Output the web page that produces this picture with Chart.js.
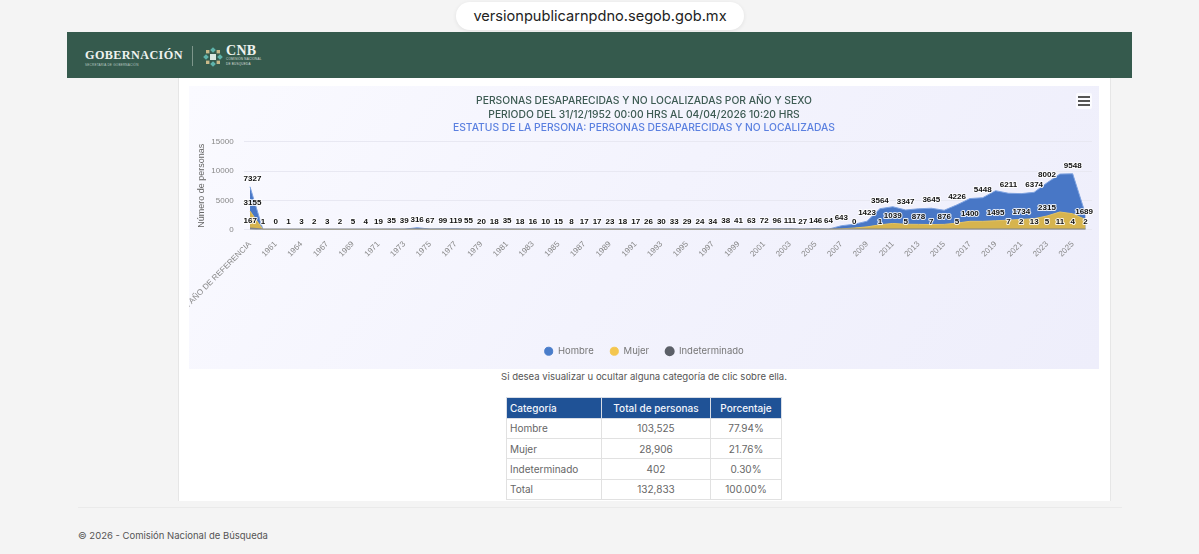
<!DOCTYPE html>
<html lang="es"><head><meta charset="utf-8">
<script src="https://cdn.jsdelivr.net/npm/chart.js@4/dist/chart.umd.min.js"></script>
<style>
*{box-sizing:border-box}
html,body{margin:0;padding:0;width:1199px;height:554px;overflow:hidden;background:#f4f4f4;font-family:Inter,"Open Sans",sans-serif;color:#555}
.abs{position:absolute}
#pill{left:456px;top:2px;width:288px;height:28px;background:#fff;border-radius:14px;box-shadow:0 1px 4px rgba(0,0,0,.08);text-align:center;font:14.6px/28px "Inter",sans-serif;color:#222}
#hdr{left:67px;top:32px;width:1065px;height:46px;background:#355a4d}
#gob{left:18px;top:15px;font:bold 12.2px/16px "Liberation Serif",serif;letter-spacing:.4px;color:#eef2ef}
#gobs{left:18px;top:31px;font:3.1px/4px "Liberation Sans",sans-serif;letter-spacing:.2px;color:#b8c8c0}
#div{left:125px;top:14px;width:1px;height:20px;background:#7d968b}
#cnb{left:159px;top:11px;font:bold 14px/16px "Liberation Serif",serif;letter-spacing:.3px;color:#eef2ef}
#cnbs{left:159px;top:25px;font:3.1px/4.5px "Liberation Sans",sans-serif;letter-spacing:.2px;color:#d5dfda}
#card{left:178px;top:78px;width:933px;height:423px;background:#fff;border-left:1px solid #e6e6e6;border-right:1px solid #e6e6e6}
#wrap{left:189px;top:86px;width:910px;height:283px;background:linear-gradient(125deg,#fafaff 0%,#f3f3fd 50%,#eeeefb 100%)}
#menu{left:1076px;top:93px;width:16px;height:16px;background:#fbfbff;border-radius:2px}
#menu i{position:absolute;left:2px;width:12px;height:2px;background:#555}
#note{left:189px;top:370px;width:910px;text-align:center;font:9.55px/13px Inter,sans-serif;color:#555}
table{position:absolute;left:506px;top:397px;width:275px;border-collapse:collapse;table-layout:fixed;font:10px/14px Inter,sans-serif;color:#666}
th{background:#1f5296;color:#f2f5fb;font-weight:500;height:20.5px;padding:0 3px;border:1px solid #d8dde6;font-size:10px}
td{height:20.4px;padding:0 3px;border:1px solid #e1e1e1;text-align:center;background:#fff}
th:first-child,td:first-child{text-align:left}
#rule{left:78px;top:507px;width:1044px;height:1px;background:#eaeaea}
#foot{left:78px;top:529px;font:9.5px/14px Inter,sans-serif;color:#555}
</style></head>
<body>
<div id="pill" class="abs">versionpublicarnpdno.segob.gob.mx</div>
<div id="hdr" class="abs">
  <div id="gob" class="abs">GOBERNACIÓN</div>
  <div id="gobs" class="abs">SECRETARÍA DE GOBERNACIÓN</div>
  <div id="div" class="abs"></div>
  <svg class="abs" style="left:136px;top:15px" width="20" height="20" viewBox="0 0 20 20">
    <rect x="7" y="7" width="6" height="6" fill="#d9e6df"/>
    <rect x="8" y="1" width="4" height="4" fill="#5fb3ab" transform="rotate(45 10 3)"/>
    <rect x="8" y="15" width="4" height="4" fill="#5fb3ab" transform="rotate(45 10 17)"/>
    <rect x="1" y="8" width="4" height="4" fill="#5fb3ab" transform="rotate(45 3 10)"/>
    <rect x="15" y="8" width="4" height="4" fill="#5fb3ab" transform="rotate(45 17 10)"/>
    <rect x="3" y="3" width="3.4" height="3.4" fill="#c9b98a"/>
    <rect x="13.6" y="3" width="3.4" height="3.4" fill="#c9b98a"/>
    <rect x="3" y="13.6" width="3.4" height="3.4" fill="#c9b98a"/>
    <rect x="13.6" y="13.6" width="3.4" height="3.4" fill="#c9b98a"/>
  </svg>
  <div id="cnb" class="abs">CNB</div>
  <div id="cnbs" class="abs">COMISIÓN NACIONAL<br>DE BÚSQUEDA</div>
</div>
<div id="card" class="abs"></div>
<div id="wrap" class="abs"><canvas id="c" width="910" height="283" style="width:910px;height:283px;display:block"></canvas></div>
<div id="menu" class="abs"><i style="top:3px"></i><i style="top:7px"></i><i style="top:11px"></i></div>
<div id="note" class="abs">Si desea visualizar u ocultar alguna categoría de clic sobre ella.</div>
<table>
  <colgroup><col style="width:95px"><col style="width:109px"><col style="width:71px"></colgroup>
  <thead><tr id="thead"></tr></thead><tbody id="tbody"></tbody>
</table>
<div id="rule" class="abs"></div>
<div id="foot" class="abs">© 2026 - Comisión Nacional de Búsqueda</div>
<script>
const categories = ["SIN AÑO DE REFERENCIA","1952","1961","1963","1964","1966","1967","1968","1969","1970","1971","1972","1973","1974","1975","1976","1977","1978","1979","1980","1981","1982","1983","1984","1985","1986","1987","1988","1989","1990","1991","1992","1993","1994","1995","1996","1997","1998","1999","2000","2001","2002","2003","2004","2005","2006","2007","2008","2009","2010","2011","2012","2013","2014","2015","2016","2017","2018","2019","2020","2021","2022","2023","2024","2025","2026"];
const hombre = [7327,1,0,1,3,2,3,2,5,4,19,35,39,316,67,99,119,55,20,18,35,18,16,10,15,8,17,17,23,18,17,26,30,33,29,24,34,38,41,63,72,96,111,27,146,64,643,900,1423,3564,3900,3347,3550,3645,3300,4226,5300,5448,6650,6211,6150,6374,8002,9500,9548,2600];
const mujer = [3155,0,1,0,1,1,0,1,1,2,4,6,8,40,12,18,20,10,6,5,7,5,4,3,4,3,5,5,6,5,5,6,7,8,7,6,8,8,9,12,14,18,20,8,25,15,110,250,450,800,1039,900,878,850,876,1100,1400,1400,1495,1600,1734,1850,2315,3000,2700,1689];
const indeterminado = [167,0,0,0,0,0,0,0,0,0,0,0,1,2,1,0,1,0,0,0,0,0,0,0,0,0,0,0,0,0,0,0,0,0,0,0,1,0,0,1,0,1,1,0,1,0,1,0,2,1,3,5,4,7,6,5,6,8,9,7,2,13,5,11,4,2];
const hombreShown = [0,1,2,3,4,5,6,7,8,9,10,11,12,13,14,15,16,17,18,19,20,21,22,23,24,25,26,27,28,29,30,31,32,33,34,35,36,37,38,39,40,41,42,43,44,45,46,48,49,51,53,55,57,59,61,62,64];
const mujerShown = [0,50,52,54,56,58,60,62,65];
const indeterminadoShown = [0,47,49,51,53,55,59,60,61,62,63,64,65];
const yTicks = [0,5000,10000,15000];
const tableHead = ["Categoría","Total de personas","Porcentaje"];
const tableRows = [["Hombre","103,525","77.94%"],["Mujer","28,906","21.76%"],["Indeterminado","402","0.30%"],["Total","132,833","100.00%"]];

document.getElementById('thead').innerHTML = tableHead.map(t=>'<th>'+t+'</th>').join('');
document.getElementById('tbody').innerHTML = tableRows.map(r=>'<tr>'+r.map(t=>'<td>'+t+'</td>').join('')+'</tr>').join('');

const shown = [hombreShown, mujerShown, indeterminadoShown];
const labelPlugin = {
  id:'valueLabels',
  afterDatasetsDraw(chart){
    const ctx = chart.ctx, area = chart.chartArea;
    ctx.save();
    ctx.font = 'bold 8px "Liberation Sans"';
    ctx.textAlign = 'center';
    ctx.textBaseline = 'middle';
    ctx.lineJoin = 'round';
    chart.data.datasets.forEach((ds,i)=>{
      const pts = chart.getDatasetMeta(i).data;
      shown[i].forEach(k=>{
        const text = String(ds.data[k]);
        const w = ctx.measureText(text).width;
        const x = Math.min(Math.max(pts[k].x, area.left + w/2), area.right + 1 - w/2);
        const y = pts[k].y - 8;
        ctx.lineWidth = 2;
        ctx.strokeStyle = 'rgba(255,255,255,.85)';
        ctx.strokeText(text,x,y);
        ctx.fillStyle = '#111';
        ctx.fillText(text,x,y);
      });
    });
    ctx.restore();
  }
};

new Chart(document.getElementById('c'),{
  type:'line',
  data:{labels:categories,datasets:[
    {label:'Hombre',data:hombre,order:3,fill:'origin',backgroundColor:'#4877c6',borderColor:'#7fa3e0',borderWidth:1,pointRadius:0,pointBackgroundColor:'#4a7dca',pointBorderColor:'#4a7dca',tension:0},
    {label:'Mujer',data:mujer,order:2,fill:'origin',backgroundColor:'#d6b44e',borderColor:'#e3c364',borderWidth:1,pointRadius:0,pointBackgroundColor:'#f4c64f',pointBorderColor:'#f4c64f',tension:0},
    {label:'Indeterminado',data:indeterminado,order:1,fill:'origin',backgroundColor:'rgba(92,96,104,.75)',borderColor:'#7f8288',borderWidth:2,pointRadius:0,pointBackgroundColor:'#5c6068',pointBorderColor:'#5c6068',tension:0}
  ]},
  plugins:[labelPlugin],
  options:{
    responsive:false,animation:false,
    layout:{padding:{left:7,right:7,top:0,bottom:3}},
    plugins:{
      title:{display:true,text:['PERSONAS DESAPARECIDAS Y NO LOCALIZADAS POR AÑO Y SEXO','PERIODO DEL 31/12/1952 00:00 HRS AL 04/04/2026 10:20 HRS'],color:'#3c5a52',font:{family:'Inter',size:10.3,weight:'500',lineHeight:1.36},padding:{top:8,bottom:0}},
      subtitle:{display:true,text:'ESTATUS DE LA PERSONA: PERSONAS DESAPARECIDAS Y NO LOCALIZADAS',color:'#5b80e0',font:{family:'Inter',size:10.3,weight:'500',lineHeight:1.2},padding:{top:0,bottom:7.6}},
      legend:{position:'bottom',labels:{usePointStyle:true,pointStyle:'circle',boxWidth:9,boxHeight:5.7,padding:16,color:'#777',font:{family:'Inter',size:9.5},sort:(a,b)=>a.datasetIndex-b.datasetIndex}},
      tooltip:{enabled:false}
    },
    scales:{
      x:{offset:true,
        grid:{display:false},border:{display:false},
        ticks:{autoSkip:false,minRotation:45,maxRotation:45,padding:2,color:'#888',font:{family:'Liberation Sans',size:8},callback(v,i){return i%2===0?categories[i]:'';}},
        afterFit(s){s.height=101;s.paddingLeft=0;s.paddingRight=0;}
      },
      y:{min:0,max:15000,
        afterBuildTicks(s){s.ticks=yTicks.map(v=>({value:v}));},
        afterFit(s){s.width=47.6;},
        grid:{color:'#e8e8f2',drawTicks:false},border:{display:false},
        ticks:{color:'#888',padding:10,font:{family:'Liberation Sans',size:8},callback:v=>String(v)},
        title:{display:true,text:'Número de personas',color:'#666',padding:{top:0,bottom:0},font:{family:'Liberation Sans',size:9}}
      }
    }
  }
});
</script>
</body></html>
